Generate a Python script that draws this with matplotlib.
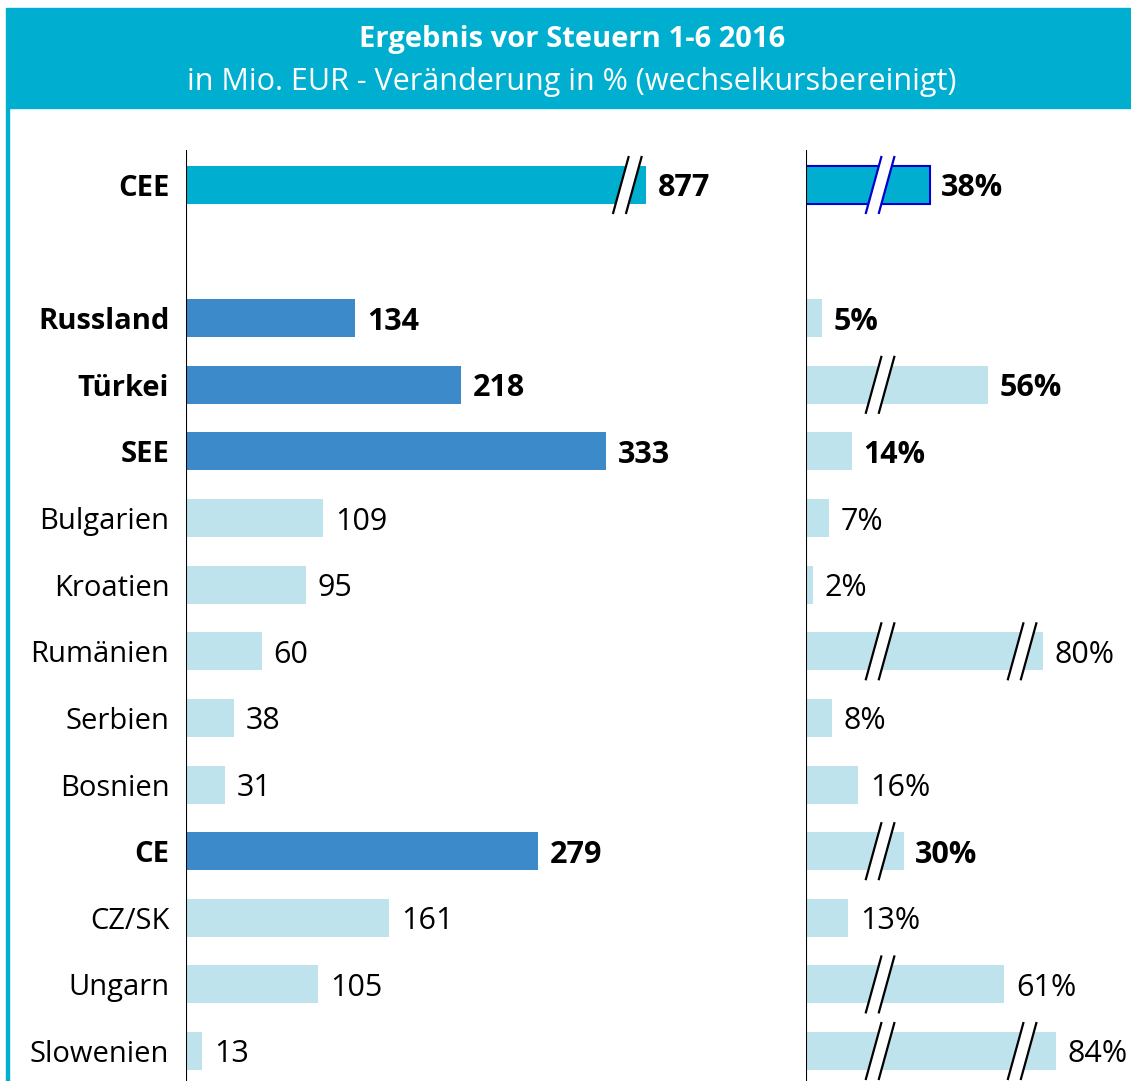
import matplotlib.pyplot as plt
from matplotlib.patches import Polygon

plt.rcParams['font.family'] = ['Open Sans', 'DejaVu Sans']

# Data
regions = ['CEE', '', 'Russland', 'Türkei', 'SEE', 'Bulgarien', 'Kroatien', 'Rumänien',
           'Serbien', 'Bosnien', 'CE', 'CZ/SK', 'Ungarn', 'Slowenien']
result = [877, None, 134, 218, 333, 109, 95, 60, 38, 31, 279, 161, 105, 13]
change = [38, None, 5, 56, 14, 7, 2, 80, 8, 16, 30, 13, 61, 84]
bold = [True, False, True, True, True, False, False, False, False, False, True, False, False, False]
kind = ['total', None, 'group', 'group', 'group', 'country', 'country', 'country',
        'country', 'country', 'group', 'country', 'country', 'country']
# number of break marks on the right bars (0, 1 or 2)
breaks_right = [1, 0, 0, 1, 0, 0, 0, 2, 0, 0, 1, 0, 1, 2]

left_cap = 365        # CEE bar is drawn shortened (broken axis)
left_break = 350
right_breaks = [22.8, 66.5]
right_cut = 7.2       # length hidden by the second break

teal = '#00AFD0'
dark = '#3C8AC9'
light = '#BFE3EC'
colors = {'total': teal, 'group': dark, 'country': light}

W, H = 1131, 1081
fig = plt.figure(figsize=(W / 100, H / 100), dpi=100)

# header band
fig.patches.append(plt.Rectangle((6 / W, 1 - 108 / H), 1, 100 / H, transform=fig.transFigure,
                                 color=teal, zorder=0))
fig.patches.append(plt.Rectangle((6 / W, 0), 2.5 / W, 1 - 108 / H, transform=fig.transFigure,
                                 color=teal, zorder=0))
fig.text(572 / W, 1 - 39 / H, 'Ergebnis vor Steuern 1-6 2016', color='white', fontsize=21,
         fontweight='bold', ha='center', va='center')
fig.text(572 / W, 1 - 82 / H, 'in Mio. EUR - Veränderung in % (wechselkursbereinigt)',
         color='white', fontsize=22, ha='center', va='center')

top, bottom = 150, 1081
axl = fig.add_axes([186 / W, 1 - bottom / H, 594 / W, (bottom - top) / H])
axr = fig.add_axes([806 / W, 1 - bottom / H, 325 / W, (bottom - top) / H])
axl.set_xlim(0, 594 / 1.261)
axr.set_xlim(0, 100)
for ax in (axl, axr):
    ax.set_ylim(13.45, -0.525)
    ax.axis('off')
    ax.axvline(0, color='black', lw=1.5, zorder=5)
    ax.set_facecolor('none')


def break_mark(ax, x, y, color='black'):
    # two slanted lines with a white gap, size given in pixels
    to_px = ax.transData.transform
    to_data = ax.transData.inverted().transform
    cx, cy = to_px((x, y))
    dx, hh, gap = 8, 29, 13
    for off in (-gap / 2, gap / 2):
        p1 = to_data((cx + off - dx, cy - hh))
        p2 = to_data((cx + off + dx, cy + hh))
        ax.plot([p1[0], p2[0]], [p1[1], p2[1]], color=color, lw=1.6, zorder=4,
                solid_capstyle='butt')
    poly = [to_data((cx - gap / 2 - dx, cy - hh)), to_data((cx + gap / 2 - dx, cy - hh)),
            to_data((cx + gap / 2 + dx, cy + hh)), to_data((cx - gap / 2 + dx, cy + hh))]
    ax.add_patch(Polygon(poly, closed=True, facecolor='white', edgecolor='none', zorder=3))


h = 0.57
for i, name in enumerate(regions):
    if result[i] is None:
        continue
    c = colors[kind[i]]
    fw = 'bold' if bold[i] else 'normal'
    axl.annotate(name, (0, i), xytext=(-12, -2.5), textcoords='offset points',
                 ha='right', va='center', fontsize=21, fontweight=fw)

    length = min(result[i], left_cap)
    axl.barh(i, length, height=h, color=c)
    axl.annotate(str(result[i]), (length, i), xytext=(8.5, -2.5), textcoords='offset points',
                 ha='left', va='center', fontsize=22, fontweight=fw)
    if result[i] > left_cap:
        break_mark(axl, left_break, i)

    rc = teal if kind[i] == 'total' else light
    rlen = change[i] - (right_cut if breaks_right[i] == 2 else 0)
    if kind[i] == 'total':
        axr.barh(i, rlen, height=h, color=rc, edgecolor='#0000CC', lw=1.5)
    else:
        axr.barh(i, rlen, height=h, color=rc)
    axr.annotate(f'{change[i]}%', (rlen, i), xytext=(8.5, -2.5), textcoords='offset points',
                 ha='left', va='center', fontsize=22, fontweight=fw)
    for b in range(breaks_right[i]):
        break_mark(axr, right_breaks[b], i, '#0000CC' if kind[i] == 'total' else 'black')

fig.savefig('out.png', dpi=100)
